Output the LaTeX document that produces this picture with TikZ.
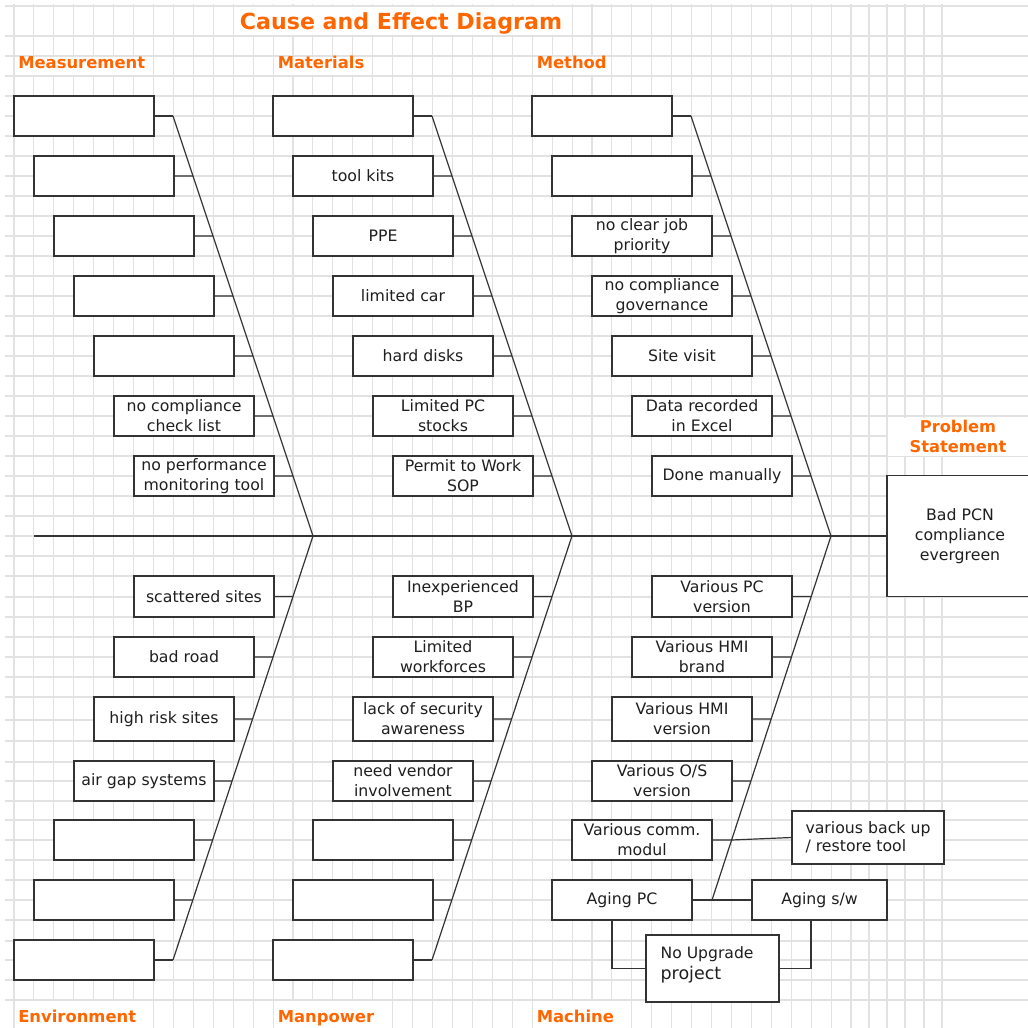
\documentclass[tikz,border=0pt]{standalone}
\usepackage{fontspec}
\setmainfont{DejaVu Sans}
\usetikzlibrary{calc}
\definecolor{hdr}{RGB}{255,102,0}
\definecolor{gridc}{RGB}{226,226,226}
\definecolor{ink}{RGB}{51,51,51}
\begin{document}
\begin{tikzpicture}[x=0.75pt,y=-0.75pt,
  box/.style={draw=ink, line width=0.95pt, fill=white, minimum width=105pt,
    minimum height=30pt, inner sep=0pt, align=center, text=black!88,
    font=\fontsize{11.8}{15}\selectfont},
  bone/.style={draw=ink, line width=0.9pt},
  gridline/.style={draw=gridc, line width=0.8pt},
  hdrtop/.style={text=hdr, font=\bfseries\fontsize{12.3}{15}\selectfont, fill=white,
    inner xsep=1.5pt, inner ysep=0pt, text height=8.25pt, text depth=5.25pt, anchor=base west},
  hdrbot/.style={text=hdr, font=\bfseries\fontsize{12.3}{15}\selectfont, fill=white,
    inner xsep=1.5pt, inner ysep=0pt, text height=16pt, text depth=4.5pt, anchor=base west}]
\useasboundingbox (0,0) rectangle (1028,1028);
\fill[white] (0,0) rectangle (1028,1028);

% sheet grid
\foreach \k in {0,...,41} \draw[gridline] ({14+19.93*\k},4) -- ({14+19.93*\k},1028);
\foreach \x in {851,869,887,905,924,942} \draw[gridline] (\x,4) -- (\x,1028);
\foreach \y in {6,36,56,76,96,116,136,156,176,196,216,236,256,276,296,316,336,356,376,396,
  416,436,456,476,496,516,536,556,576,597,617,637,657,677,697,720,741,762,781,801,820,840,
  860,880,900,920,941,960,980,1000} \draw[gridline] (5,\y) -- (1028,\y);

% title and category headings
\node[fill=white, text=hdr, font=\bfseries\fontsize{16.6}{20}\selectfont, minimum width=250.5pt,
  inner sep=0pt, text height=16.5pt, text depth=4.5pt, anchor=base] (title) at (401,29)
  {Cause and Effect Diagram};
\node[hdrtop] (hMeas) at (16,68) {Measurement};
\node[hdrtop] (hMat) at (275.5,68) {Materials};
\node[hdrtop] (hMet) at (534.5,68) {Method};
\node[hdrbot] (hEnv) at (16,1022.5) {Environment};
\node[hdrbot] (hMan) at (275.5,1022.5) {Manpower};
\node[hdrbot] (hMac) at (534.5,1022.5) {Machine};
\node[fill=white, text=hdr, font=\bfseries\fontsize{12.2}{15}\selectfont, align=center,
  minimum width=105pt, minimum height=28.5pt, inner sep=0pt] (hProb) at (958,436.5)
  {Problem\\Statement};

% effect (box runs past the right edge of the sheet)
\node[box, minimum width=123pt, minimum height=90.75pt] (prob) at (969,536)
  {\begin{tabular}{@{}c@{\hspace{13.5pt}}}Bad PCN\\compliance\\evergreen\end{tabular}};

% Measurement
\node[box] (m1) at (84,116) {};
\node[box] (m2) at (104,176) {};
\node[box] (m3) at (124,236) {};
\node[box] (m4) at (144,296) {};
\node[box] (m5) at (164,356) {};
\node[box] (m6) at (184,416) {no compliance\\check list};
\node[box] (m7) at (204,476) {no performance\\monitoring tool};

% Materials
\node[box] (a1) at (343,116) {};
\node[box] (a2) at (363,176) {tool kits};
\node[box] (a3) at (383,236) {PPE};
\node[box] (a4) at (403,296) {limited car};
\node[box] (a5) at (423,356) {hard disks};
\node[box] (a6) at (443,416) {Limited PC\\stocks};
\node[box] (a7) at (463,476) {Permit to Work\\SOP};

% Method
\node[box] (t1) at (602,116) {};
\node[box] (t2) at (622,176) {};
\node[box] (t3) at (642,236) {no clear job\\priority};
\node[box] (t4) at (662,296) {no compliance\\governance};
\node[box] (t5) at (682,356) {Site visit};
\node[box] (t6) at (702,416) {Data recorded\\in Excel};
\node[box] (t7) at (722,476) {Done manually};

% Environment
\node[box, minimum height=30.75pt] (e1) at (204,596.5) {scattered sites};
\node[box] (e2) at (184,657) {bad road};
\node[box, minimum height=33pt] (e3) at (164,719) {high risk sites};
\node[box] (e4) at (144,781) {air gap systems};
\node[box] (e5) at (124,840) {};
\node[box] (e6) at (104,900) {};
\node[box] (e7) at (84,960) {};

% Manpower
\node[box, minimum height=30.75pt] (p1) at (463,596.5) {Inexperienced\\BP};
\node[box] (p2) at (443,657) {Limited\\workforces};
\node[box, minimum height=33pt] (p3) at (423,719) {lack of security\\awareness};
\node[box] (p4) at (403,781) {need vendor\\involvement};
\node[box] (p5) at (383,840) {};
\node[box] (p6) at (363,900) {};
\node[box] (p7) at (343,960) {};

% Machine
\node[box, minimum height=30.75pt] (c1) at (722,596.5) {Various PC\\version};
\node[box] (c2) at (702,657) {Various HMI\\brand};
\node[box, minimum height=33pt] (c3) at (682,719) {Various HMI\\version};
\node[box] (c4) at (662,781) {Various O/S\\version};
\node[box] (c5) at (642,840) {Various comm.\\modul};
\node[box] (c6) at (622,900) {Aging PC};
\node[box, minimum width=114pt, minimum height=39.75pt, align=left,
  font=\fontsize{11.8}{13.5}\selectfont] (bk) at (868,837.5) {various back up\\/ restore tool};
\node[box, minimum width=101.25pt] (agsw) at (819.5,900) {Aging s/w};
\node[box, minimum width=99.75pt, minimum height=50.25pt] (noup) at (712.5,968.5) {};
\node[anchor=north west, align=left, inner sep=0pt, text=black!88,
  font=\fontsize{11.7}{14.6}\selectfont] (noupt) at ($(noup.north west)+(15,12)$)
  {No Upgrade\\[1.5pt]\fontsize{13.1}{14.6}\selectfont project};

% bones
\coordinate (sp) at (34,536);
\coordinate (mTop) at (173,116);
\coordinate (mHub) at (313,536);
\coordinate (mBot) at (173,960);
\coordinate (aTop) at (432,116);
\coordinate (aHub) at (572,536);
\coordinate (aBot) at (432,960);
\coordinate (tTop) at (691,116);
\coordinate (tHub) at (831,536);
\coordinate (cEnd) at (712,900);

\draw[bone] (sp) -- (prob.west);
\draw[bone] (mTop) -- (mHub) -- (mBot);
\draw[bone] (aTop) -- (aHub) -- (aBot);
\draw[bone] (tTop) -- (tHub) -- (cEnd);

% branch ties
\foreach \g in {m,a,t}{
  \foreach \i/\f in {1/0,2/0.142857,3/0.285714,4/0.428571,5/0.571429,6/0.714286,7/0.857143}
    \draw[bone] (\g\i.east) -- ($(\g Top)!\f!(\g Hub)$);
}
\foreach \i/\f in {1/0.142689,2/0.285377,3/0.431604,4/0.577830,5/0.716981,6/0.858491,7/1}{
  \draw[bone] (e\i.east) -- ($(mHub)!\f!(mBot)$);
  \draw[bone] (p\i.east) -- ($(aHub)!\f!(aBot)$);
}
\foreach \i/\f in {1/0.166209,2/0.332418,3/0.502747,4/0.673077}
  \draw[bone] (c\i.east) -- ($(tHub)!\f!(cEnd)$);
\draw[bone] (c5.east) -- ($(tHub)!0.835165!(cEnd)$) -- (bk.west);
\draw[bone] (c6.east) -- (cEnd) -- (agsw.west);
\draw[bone] ($(c6.south)+(-10,0)$) |- (noup.west);
\draw[bone] ($(agsw.south)+(-8.5,0)$) |- (noup.east);
\end{tikzpicture}
\end{document}
